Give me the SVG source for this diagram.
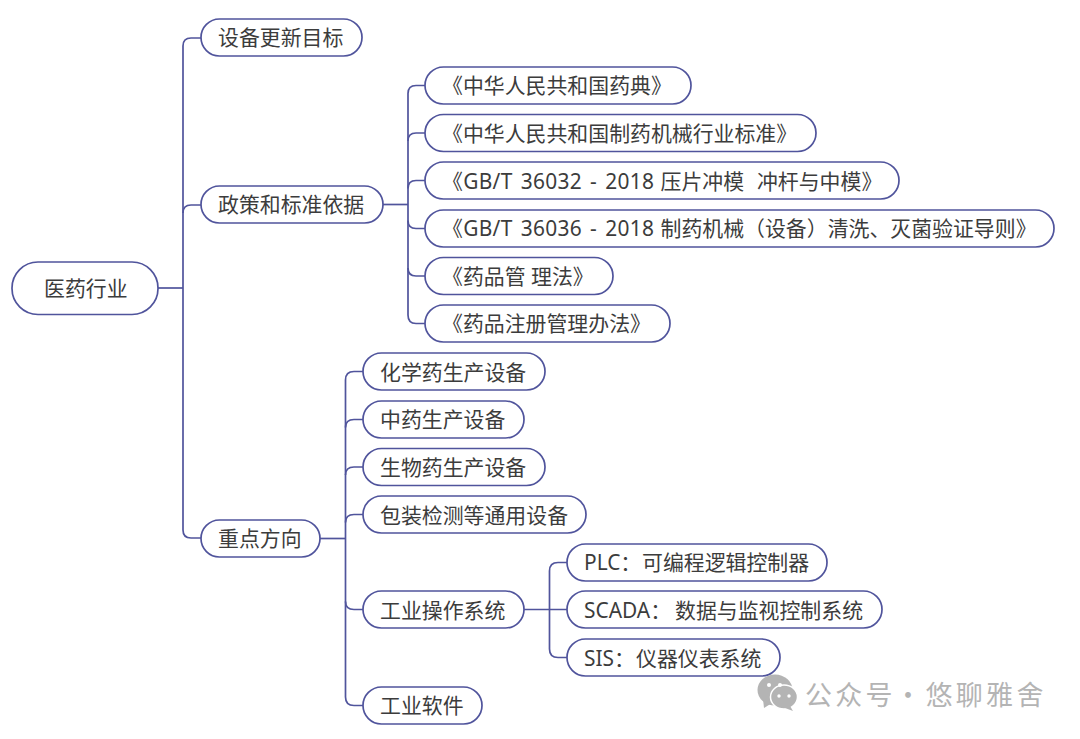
<svg xmlns="http://www.w3.org/2000/svg" width="1080" height="739" viewBox="0 0 1080 739">
<style>
.n{fill:#fff;stroke:#50549c;stroke-width:1.7}
.t{font-family:"Noto Sans","Noto Sans CJK SC",sans-serif;font-size:20.900px;fill:#3c3c3c}
.l{letter-spacing:.3px;word-spacing:2.400px}
.c path{fill:none;stroke:#50549c;stroke-width:1.7}
.w{font-family:"Noto Sans CJK SC",sans-serif;font-size:27px;fill:#b4b4b4;letter-spacing:3.300px}
</style>
<rect width="1080" height="739" fill="#fff"/>
<g id="connectors" class="c">
<path d="M158 288H183"/>
<path d="M201 38H191Q183 38 183 46V530Q183 538 191 538H201"/>
<path d="M183 213Q183 205 191 205H201"/>
<path d="M383 204.500H408"/>
<path d="M425 85.500H416Q408 85.500 408 93.500V315Q408 323.500 416 323.500H425"/>
<path d="M408 141Q408 133 416 133H425"/>
<path d="M408 188.500Q408 180.500 416 180.500H425"/>
<path d="M408 220.500Q408 228.500 416 228.500H425"/>
<path d="M408 268Q408 276 416 276H425"/>
<path d="M320 538.500H345"/>
<path d="M363 371.500H354Q345.500 371.500 345.500 380V697Q345.500 705.500 354 705.500H363"/>
<path d="M345.500 427.500Q345.500 419.500 354 419.500H363"/>
<path d="M345.500 475Q345.500 467 354 467H363"/>
<path d="M345.500 522.500Q345.500 514.500 354 514.500H363"/>
<path d="M345.500 601.500Q345.500 609.500 354 609.500H363"/>
<path d="M524 609.500H567"/>
<path d="M567 562.500H558Q549.500 562.500 549.500 571V649Q549.500 657.500 558 657.500H567"/>
</g>
<g id="root"><rect class="n" x="12" y="262" width="146" height="52.500" rx="26"/><text class="t" x="44" y="296">医药行业</text></g>
<g id="n1"><rect class="n" x="201" y="19" width="161" height="37" rx="18.500"/><text class="t" x="218" y="45">设备更新目标</text></g>
<g id="n2"><rect class="n" x="201" y="186" width="182" height="37" rx="18.500"/><text class="t" x="218" y="212">政策和标准依据</text></g>
<g id="n3"><rect class="n" x="201" y="520" width="119" height="37" rx="18.500"/><text class="t" x="218" y="546">重点方向</text></g>
<g id="p1"><rect class="n" x="425" y="67" width="266" height="37" rx="18.500"/><text class="t" x="442" y="93">《中华人民共和国药典》</text></g>
<g id="p2"><rect class="n" x="425" y="114.500" width="391" height="37" rx="18.500"/><text class="t" x="442" y="141">《中华人民共和国制药机械行业标准》</text></g>
<g id="p3"><rect class="n" x="425" y="162" width="474" height="37" rx="18.500"/><text class="t" x="442" y="188.500" xml:space="preserve"><tspan class="l">《GB/T 36032 - 2018</tspan><tspan x="660.500" word-spacing="1">压片冲模  冲杆与中模》</tspan></text></g>
<g id="p4"><rect class="n" x="425" y="210" width="629" height="37" rx="18.500"/><text class="t" x="442" y="236"><tspan class="l">《GB/T 36036 - 2018</tspan><tspan x="660.500">制药机械（设备）清洗、灭菌验证导则》</tspan></text></g>
<g id="p5"><rect class="n" x="425" y="257.500" width="188" height="37" rx="18.500"/><text class="t" x="442" y="284" xml:space="preserve">《药品管 理法》</text></g>
<g id="p6"><rect class="n" x="425" y="305" width="245" height="37" rx="18.500"/><text class="t" x="442" y="331">《药品注册管理办法》</text></g>
<g id="d1"><rect class="n" x="363" y="353" width="182" height="37" rx="18.500"/><text class="t" x="380" y="379.500">化学药生产设备</text></g>
<g id="d2"><rect class="n" x="363" y="401" width="161" height="37" rx="18.500"/><text class="t" x="380" y="427">中药生产设备</text></g>
<g id="d3"><rect class="n" x="363" y="448.500" width="182" height="37" rx="18.500"/><text class="t" x="380" y="475">生物药生产设备</text></g>
<g id="d4"><rect class="n" x="363" y="496" width="223" height="37" rx="18.500"/><text class="t" x="380" y="522.500">包装检测等通用设备</text></g>
<g id="d5"><rect class="n" x="363" y="591" width="161" height="37" rx="18.500"/><text class="t" x="380" y="617.500">工业操作系统</text></g>
<g id="d6"><rect class="n" x="363" y="687" width="119" height="37" rx="18.500"/><text class="t" x="380" y="713">工业软件</text></g>
<g id="s1"><rect class="n" x="567" y="544" width="260" height="37" rx="18.500"/><text class="t" x="584" y="570">PLC：<tspan x="642">可编程逻辑控制器</tspan></text></g>
<g id="s2"><rect class="n" x="567" y="591" width="315" height="37" rx="18.500"/><text class="t" x="584" y="617.500">SCADA：<tspan x="675">数据与监视控制系统</tspan></text></g>
<g id="s3"><rect class="n" x="567" y="639" width="213" height="37" rx="18.500"/><text class="t" x="584" y="665.500">SIS：<tspan x="636">仪器仪表系统</tspan></text></g>
<g id="watermark">
<ellipse cx="775" cy="690" rx="17.500" ry="15.500" fill="#b4b4b4"/>
<path d="M763 699L764 708L772 703Z" fill="#b4b4b4"/>
<ellipse cx="784" cy="697" rx="13.500" ry="12" fill="#b4b4b4" stroke="#fff" stroke-width="1.500"/>
<path d="M790 706L793 711L785 708Z" fill="#b4b4b4"/>
<circle cx="769" cy="685" r="2" fill="#fff"/><circle cx="780" cy="685" r="2" fill="#fff"/>
<circle cx="779" cy="696" r="1.700" fill="#fff"/><circle cx="789" cy="696" r="1.700" fill="#fff"/>
<text class="w" x="805" y="705">公众号<tspan x="894.500">·</tspan><tspan x="925.500">悠聊雅舍</tspan></text>
</g>
</svg>
